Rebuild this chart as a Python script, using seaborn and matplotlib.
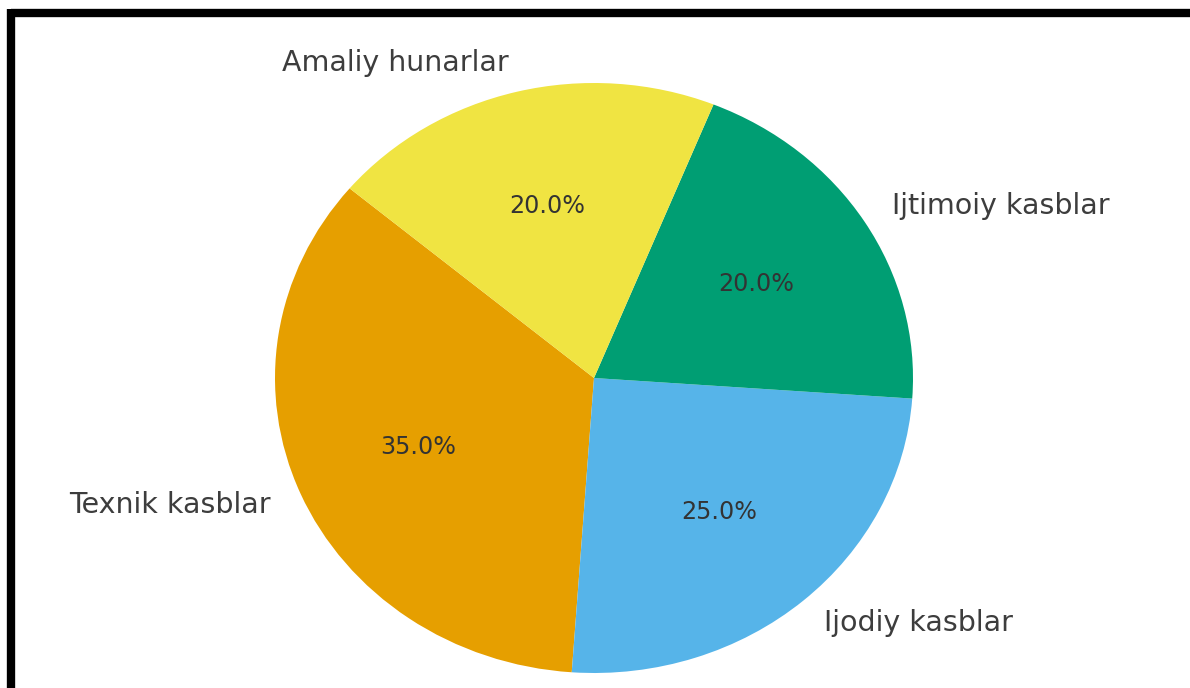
import matplotlib
matplotlib.use('Agg')
import matplotlib.pyplot as plt
import seaborn as sns
from matplotlib.lines import Line2D

# Ma'lumotlar
kasblar = ['Texnik kasblar', 'Ijodiy kasblar', 'Ijtimoiy kasblar', 'Amaliy hunarlar']
ulush = [35, 25, 20, 20]
ranglar = ['#E69F00', '#56B4E9', '#009E73', '#F0E442']

sns.set_style('white')
plt.rcParams['font.family'] = ['DejaVu Sans']

fig = plt.figure(figsize=(11.9, 6.88), dpi=100)
# pie markazi ~ (594, 378) px, radius ~319 x 295 px
ax = fig.add_axes([195.25 / 1190, -58.75 / 688, 797.5 / 1190, 737.5 / 688])

wedges, texts, autotexts = ax.pie(
    ulush,
    labels=kasblar,
    colors=sns.color_palette(ranglar),
    autopct='%1.1f%%',
    startangle=140,
    counterclock=True,
    labeldistance=1.1,
    pctdistance=0.6,
    wedgeprops={'linewidth': 0},
    textprops={'color': '#3d3d3d'},
)
for t in texts:
    t.set_fontsize(20.5)
for t in autotexts:
    t.set_fontsize(17.2)
    t.set_color('#333333')

ax.set_aspect('auto')
ax.set_xlim(-1.25, 1.25)
ax.set_ylim(-1.25, 1.25)
ax.axis('off')

# qora ramka (faqat yuqori va chap)
fig.add_artist(Line2D([11 / 1190, 1], [1 - 13 / 688, 1 - 13 / 688], color='black', lw=6,
                      transform=fig.transFigure, solid_capstyle='butt'))
fig.add_artist(Line2D([11 / 1190, 11 / 1190], [0, 1 - 9 / 688], color='black', lw=6,
                      transform=fig.transFigure, solid_capstyle='butt'))

fig.savefig('out.png', dpi=100, facecolor='white')
